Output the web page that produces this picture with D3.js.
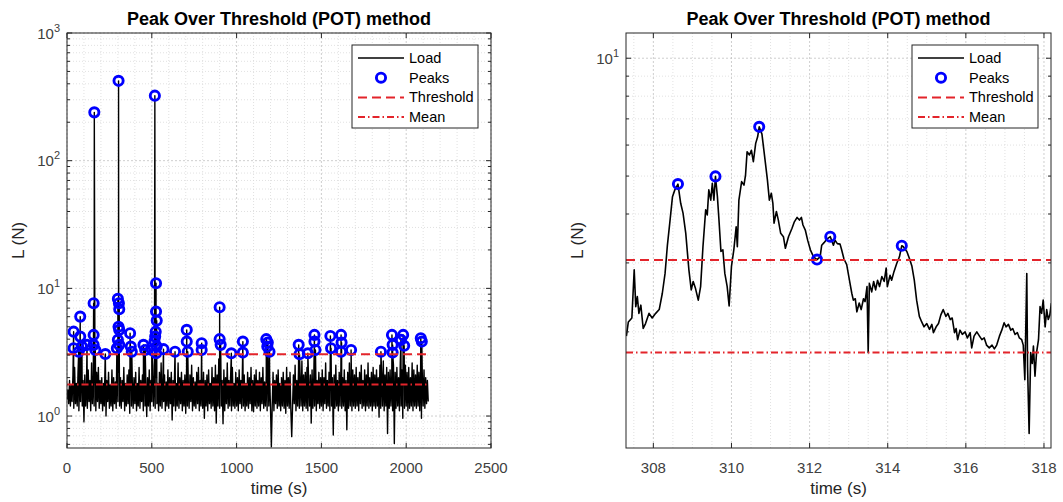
<!DOCTYPE html>
<meta charset="utf-8">
<style>
body { margin: 0; background: #fff; }
svg { font-family: "Liberation Sans", Arial, Helvetica, sans-serif; }
.grid-major line { stroke: #c2c2c2; stroke-width: 0.8; stroke-dasharray: 2,2; }
.grid-minor line { stroke: #d9d9d9; stroke-width: 0.8; stroke-dasharray: 1,2; }
.ticklabel { fill: #404040; font-size: 15px; }
.axlabel { fill: #262626; font-size: 17px; }
.title { fill: #000; font-size: 18px; font-weight: bold; }
.legend text { fill: #000; font-size: 14.5px; }
</style>
<svg id="chart" width="1063" height="502"></svg>
<script src="https://d3js.org/d3.v7.min.js"></script>
<script>

// ---- data ----
var loadStep = 5; // seconds between samples of the full record
var loadValues = [
  1.35,1.6,1.25,1.9,1.2,1.75,1.3,2.1,1.15,2.4,1.25,1.8,1.2,2.2,1.1,2.0,1.3,2.5,1.2,1.9,
  0.9,2.1,1.2,1.8,1.15,2.3,1.3,1.9,1.1,2.6,1.25,2.0,1.2,1.85,1.1,2.2,1.3,2.4,1.15,1.9,
  1.25,2.0,1.1,1.8,1.2,2.9,1.0,1.9,1.3,2.2,1.15,1.75,1.2,2.3,1.1,2.0,1.25,1.85,1.15,2.5,
  1.3,2.2,1.2,2.0,1.15,1.9,1.3,2.4,1.1,1.8,1.2,2.1,1.25,2.3,1.05,2.6,1.2,1.9,1.15,2.0,
  1.25,2.2,1.1,1.8,1.2,2.4,1.15,1.9,1.3,2.1,1.1,2.7,1.2,1.85,0.99,2.0,1.2,2.3,1.1,1.9,
  1.3,2.5,1.2,2.1,1.15,2.0,1.25,1.8,1.1,2.2,1.2,2.6,1.15,1.9,1.3,2.1,1.1,1.85,1.2,2.3,
  1.15,2.0,1.25,2.2,0.93,1.9,1.2,2.4,1.1,1.8,1.2,2.6,1.15,2.0,1.25,2.2,1.1,1.9,1.2,2.1,
  1.05,2.3,1.2,1.9,1.15,2.1,1.3,2.5,1.1,2.0,1.2,1.85,1.15,2.2,1.25,2.4,1.1,1.9,1.2,2.0,
  1.15,2.2,0.96,1.9,1.2,2.1,1.1,2.3,1.25,1.8,1.15,2.4,1.2,2.0,1.1,2.5,0.88,2.1,1.2,2.8,
  1.15,2.2,1.2,1.9,0.87,2.3,1.1,2.0,1.25,2.6,1.15,1.9,1.2,2.1,1.1,2.4,1.2,1.8,1.15,2.2,
  1.2,2.0,1.1,2.3,1.25,1.9,1.15,2.7,1.2,2.1,1.1,1.8,1.2,2.2,1.15,2.0,1.25,2.4,1.1,1.9,
  1.08,2.1,1.2,2.3,1.15,1.9,1.2,2.2,1.1,2.0,1.25,2.4,1.15,1.85,1.2,2.1,1.1,2.6,1.2,2.0,
  1.15,0.575,1.2,2.2,1.1,1.9,1.25,2.1,1.15,2.3,1.2,1.8,1.1,2.0,1.2,2.2,1.15,1.9,1.05,2.4,
  1.2,2.0,1.15,2.2,1.1,0.69,1.2,2.1,1.25,2.5,1.1,1.9,1.2,2.3,1.15,2.0,1.2,2.7,1.1,2.1,
  1.2,2.2,1.15,2.4,1.1,1.9,1.2,2.1,0.88,2.3,1.15,2.0,1.2,2.5,1.1,1.9,1.25,2.2,1.15,2.0,
  1.2,2.3,1.1,2.0,1.25,2.6,1.15,1.9,1.2,2.2,1.1,2.4,1.2,2.0,0.71,2.1,1.15,2.5,1.2,1.9,
  1.1,2.2,1.2,2.4,1.15,2.0,1.2,2.3,1.1,1.9,0.78,2.2,1.15,2.6,1.2,2.0,1.1,2.3,1.2,2.1,
  1.15,2.4,1.2,2.0,1.1,2.2,1.25,2.5,1.15,1.9,1.2,2.3,1.1,2.1,1.2,2.6,1.15,2.0,1.2,2.2,
  1.1,2.4,1.2,2.1,1.15,2.3,1.2,2.0,0.98,2.5,1.15,2.2,1.2,2.7,1.1,2.1,1.2,2.4,0.73,2.2,
  1.15,2.3,1.2,2.1,1.1,2.5,0.61,2.2,1.15,2.4,1.2,2.0,1.1,2.6,1.2,2.3,0.96,2.1,1.15,2.5,
  1.2,2.2,1.1,2.4,1.15,2.0,1.2,2.6,1.1,2.3,1.2,2.1,1.15,2.5,1.2,2.2,1.1,2.4,0.96,2.1,
  1.2,2.3,1.15,2.0,1.25,1.9,1.3
];

var peakTime = [39,39,69,78,78,88,118,157,157,157,161,167,226,294,300,300,304,304,306,308,308,308,
  372,376,382,451,461,500,516,518,520,523,525,525,525,529,529,569,637,706,706,712,794,794,
  900,900,906,969,1037,1037,1175,1181,1184,1194,1366,1371,1420,1459,1459,1465,1553,1557,
  1616,1616,1619,1675,1851,1916,1920,1920,1969,1982,1988,2086,2092];
var peakLoad = [4.58,3.40,3.19,6.01,4.19,3.50,3.61,7.65,4.32,3.61,239,3.29,3.06,3.40,8.27,3.95,5.01,422,7.65,6.87,4.73,3.61,
  4.45,3.50,3.19,3.61,3.29,3.29,3.83,323,4.19,4.58,10.98,6.58,3.10,5.59,3.50,3.34,3.19,4.73,3.83,3.19,3.72,3.29,
  7.12,4.00,3.61,3.10,3.83,3.14,4.00,3.50,3.76,3.19,3.61,3.05,3.10,4.32,3.83,3.29,4.24,3.40,
  4.32,3.19,3.76,3.29,3.19,4.32,3.61,3.14,3.95,4.32,3.55,4.07,3.83];

var threshold = 3.05;
var meanLoad = 1.77;

var zoomTime = [307.31,307.36,307.45,307.51,307.55,307.59,307.63,307.68,307.74,307.80,307.89,307.97,
  308.06,308.15,308.23,308.30,308.36,308.42,308.49,308.55,308.63,308.70,308.76,308.83,308.91,308.97,
  309.02,309.08,309.15,309.21,309.27,309.34,309.38,309.42,309.47,309.51,309.55,309.59,309.64,309.68,
  309.73,309.78,309.83,309.89,309.94,310.00,310.06,310.12,310.15,310.19,310.26,310.32,310.36,310.40,
  310.46,310.51,310.56,310.62,310.67,310.71,310.78,310.86,310.92,310.97,311.02,311.06,311.09,311.15,
  311.20,311.26,311.33,311.38,311.46,311.55,311.61,311.68,311.74,311.79,311.83,311.89,311.95,312.02,
  312.10,312.19,312.27,312.31,312.37,312.44,312.53,312.61,312.65,312.71,312.78,312.82,312.88,312.95,
  313.02,313.08,313.12,313.17,313.21,313.27,313.32,313.38,313.42,313.47,313.50,313.53,313.59,313.64,
  313.69,313.74,313.79,313.85,313.91,313.96,313.99,314.06,314.10,314.16,314.23,314.30,314.36,314.40,
  314.49,314.56,314.62,314.68,314.74,314.81,314.87,314.93,315.00,315.07,315.13,315.17,315.24,315.30,
  315.36,315.42,315.49,315.54,315.60,315.65,315.71,315.75,315.79,315.85,315.91,315.98,316.04,316.11,
  316.15,316.21,316.28,316.35,316.41,316.47,316.53,316.60,316.67,316.73,316.79,316.86,316.92,316.98,
  317.03,317.09,317.15,317.20,317.26,317.32,317.37,317.43,317.47,317.51,317.56,317.58,317.62,317.66,
  317.70,317.73,317.77,317.81,317.86,317.90,317.94,317.98,318.03,318.07,318.11,318.15,318.19];
var zoomLoad = [1.95,2.12,2.17,2.88,2.32,2.46,2.23,2.34,2.04,2.10,2.23,2.17,
  2.23,2.28,2.51,2.82,3.33,3.79,4.43,4.61,4.77,4.26,4.02,3.57,2.88,2.56,
  2.69,2.58,2.41,2.61,3.30,4.10,3.98,4.61,4.34,4.79,4.34,4.99,4.43,3.86,
  3.21,3.24,2.82,2.61,2.33,2.94,3.24,3.71,3.30,4.34,4.84,4.74,5.03,5.77,
  5.66,5.82,5.44,6.06,6.30,6.68,6.40,5.49,4.89,4.34,4.52,4.26,3.79,4.06,
  3.86,3.57,3.50,3.27,3.50,3.68,3.82,3.92,3.86,3.92,3.75,3.64,3.43,3.24,
  3.11,3.06,3.11,3.33,3.38,3.45,3.50,3.33,3.43,3.36,3.35,3.24,3.07,2.97,
  2.71,2.51,2.41,2.43,2.25,2.37,2.28,2.43,2.39,2.61,1.77,2.66,2.53,2.69,
  2.56,2.71,2.61,2.77,2.69,2.91,2.61,2.79,2.71,2.85,2.99,3.11,3.32,3.30,
  3.21,3.07,2.94,2.71,2.41,2.19,2.12,2.06,2.10,2.03,2.09,1.99,2.06,2.10,
  2.21,2.28,2.19,2.23,2.15,2.17,1.99,2.04,1.91,2.02,1.97,2.00,1.93,1.99,
  1.82,1.95,2.00,1.95,1.91,1.93,1.85,1.82,1.85,1.81,1.85,1.95,2.02,2.11,
  2.06,2.09,2.02,2.04,1.97,1.99,1.93,1.91,1.85,1.51,2.82,1.63,1.10,1.77,
  1.66,1.84,1.54,1.77,1.91,2.32,2.23,2.41,2.06,2.28,2.15,2.21,2.37];
var zoomPeakTime = [308.63,309.59,310.71,312.19,312.53,314.36];
var zoomPeakLoad = [4.77,4.99,6.68,3.06,3.50,3.32];

var legendLabels = ["Load","Peaks","Threshold","Mean"];
var titleText = "Peak Over Threshold (POT) method";

// ---- drawing ----
var svg = d3.select("#chart");
var red = "#e3242b", blue = "#0000ff";

var fullRecord = loadValues.map(function(v, i) { return {t: i * loadStep, v: v}; })
  .concat(peakTime.map(function(t, i) { return {t: t, v: peakLoad[i]}; }))
  .sort(function(a, b) { return a.t - b.t; });

var zoomRecord = zoomTime.map(function(t, i) { return {t: t, v: zoomLoad[i]}; });

var panels = [
  {id: "L", x0: 67, x1: 491, y0: 33, y1: 448, xDomain: [0, 2500], yDomain: [0.562, 1000],
   xMajor: 500, xMinor: 100, line: fullRecord, lineWidth: 1.4,
   peaks: peakTime.map(function(t, i) { return {t: t, v: peakLoad[i]}; }),
   refSpan: [0, 2130], ylabX: 23.5},
  {id: "R", x0: 626, x1: 1051, y0: 33, y1: 448, xDomain: [307.3, 318.18], yDomain: [1.01, 11.6],
   xMajor: 2, xMinor: 0.5, line: zoomRecord, lineWidth: 1.6,
   peaks: zoomPeakTime.map(function(t, i) { return {t: t, v: zoomPeakLoad[i]}; }),
   refSpan: [307.3, 318.18], ylabX: 582.5}
];

panels.forEach(drawPanel);

function stepTicks(domain, step) {
  var out = [];
  var start = Math.ceil(domain[0] / step - 1e-9);
  for (var k = start; k * step <= domain[1] + 1e-9; k++) out.push(+(k * step).toFixed(6));
  return out;
}

function drawPanel(p) {
  var x = d3.scaleLinear().domain(p.xDomain).range([p.x0, p.x1]);
  var y = d3.scaleLog().domain(p.yDomain).range([p.y1, p.y0]);
  var g = svg.append("g");

  g.append("rect").attr("x", p.x0).attr("y", p.y0)
    .attr("width", p.x1 - p.x0).attr("height", p.y1 - p.y0).attr("fill", "#fff");

  var xMaj = stepTicks(p.xDomain, p.xMajor);
  var xMin = stepTicks(p.xDomain, p.xMinor).filter(function(t) {
    return xMaj.indexOf(t) < 0;
  });
  var yAll = y.ticks();
  var isDecade = function(v) { return Math.abs(Math.log10(v) - Math.round(Math.log10(v))) < 1e-6; };
  var yMaj = yAll.filter(isDecade);
  var yMin = yAll.filter(function(v) { return !isDecade(v); });

  var gmin = g.append("g").attr("class", "grid-minor");
  gmin.selectAll(".vx").data(xMin).enter().append("line")
    .attr("x1", function(d) { return x(d); }).attr("x2", function(d) { return x(d); })
    .attr("y1", p.y0).attr("y2", p.y1);
  gmin.selectAll(".hy").data(yMin).enter().append("line")
    .attr("y1", function(d) { return y(d); }).attr("y2", function(d) { return y(d); })
    .attr("x1", p.x0).attr("x2", p.x1);

  var gmaj = g.append("g").attr("class", "grid-major");
  gmaj.selectAll(".vx").data(xMaj).enter().append("line")
    .attr("x1", function(d) { return x(d); }).attr("x2", function(d) { return x(d); })
    .attr("y1", p.y0).attr("y2", p.y1);
  gmaj.selectAll(".hy").data(yMaj).enter().append("line")
    .attr("y1", function(d) { return y(d); }).attr("y2", function(d) { return y(d); })
    .attr("x1", p.x0).attr("x2", p.x1);

  // clip
  svg.append("clipPath").attr("id", "clip" + p.id).append("rect")
    .attr("x", p.x0).attr("y", p.y0).attr("width", p.x1 - p.x0).attr("height", p.y1 - p.y0);
  var plot = g.append("g").attr("clip-path", "url(#clip" + p.id + ")");

  var line = d3.line().x(function(d) { return x(d.t); }).y(function(d) { return y(d.v); });
  plot.append("path").datum(p.line).attr("d", line)
    .attr("fill", "none").attr("stroke", "#000").attr("stroke-width", p.lineWidth)
    .attr("stroke-linejoin", "round");

  plot.selectAll(".pk").data(p.peaks).enter().append("circle")
    .attr("cx", function(d) { return x(d.t); }).attr("cy", function(d) { return y(d.v); })
    .attr("r", 4.6).attr("fill", "none").attr("stroke", blue).attr("stroke-width", 2.9);

  plot.append("line").attr("x1", x(p.refSpan[0])).attr("x2", x(p.refSpan[1]))
    .attr("y1", y(threshold)).attr("y2", y(threshold))
    .attr("stroke", red).attr("stroke-width", 2).attr("stroke-dasharray", "9,5");
  plot.append("line").attr("x1", x(p.refSpan[0])).attr("x2", x(p.refSpan[1]))
    .attr("y1", y(meanLoad)).attr("y2", y(meanLoad))
    .attr("stroke", red).attr("stroke-width", 2).attr("stroke-dasharray", "7,3,1.5,3");

  // box and inward ticks
  var ax = g.append("g").attr("stroke", "#262626").attr("stroke-width", 1);
  ax.append("rect").attr("x", p.x0).attr("y", p.y0)
    .attr("width", p.x1 - p.x0).attr("height", p.y1 - p.y0).attr("fill", "none");
  xMaj.forEach(function(t) {
    ax.append("line").attr("x1", x(t)).attr("x2", x(t)).attr("y1", p.y1).attr("y2", p.y1 - 5);
    ax.append("line").attr("x1", x(t)).attr("x2", x(t)).attr("y1", p.y0).attr("y2", p.y0 + 5);
  });
  yAll.forEach(function(v) {
    var len = isDecade(v) ? 5 : 3;
    ax.append("line").attr("y1", y(v)).attr("y2", y(v)).attr("x1", p.x0).attr("x2", p.x0 + len);
    ax.append("line").attr("y1", y(v)).attr("y2", y(v)).attr("x1", p.x1).attr("x2", p.x1 - len);
  });

  // tick labels
  g.selectAll(".xl").data(xMaj).enter().append("text")
    .attr("class", "ticklabel").attr("text-anchor", "middle")
    .attr("x", function(d) { return x(d); }).attr("y", p.y1 + 24.5)
    .text(function(d) { return d3.format("d")(d); });
  var yl = g.selectAll(".yl").data(yMaj).enter().append("text")
    .attr("class", "ticklabel").attr("text-anchor", "end")
    .attr("x", p.x0 - 7).attr("y", function(d) { return y(d) + 5.5; });
  yl.append("tspan").text("10");
  yl.append("tspan").attr("dy", -7).attr("font-size", "11px")
    .text(function(d) { return Math.round(Math.log10(d)); });

  // labels and title
  g.append("text").attr("class", "title").attr("text-anchor", "middle")
    .attr("x", (p.x0 + p.x1) / 2).attr("y", 24.5).text(titleText);
  g.append("text").attr("class", "axlabel").attr("text-anchor", "middle")
    .attr("x", (p.x0 + p.x1) / 2).attr("y", 494).text("time (s)");
  g.append("text").attr("class", "axlabel").attr("text-anchor", "middle")
    .attr("transform", "translate(" + p.ylabX + "," + ((p.y0 + p.y1) / 2) + ") rotate(-90)")
    .text("L (N)");

  // legend
  var lx = p.x1 - 139, ly = 45;
  var lg = g.append("g").attr("class", "legend");
  lg.append("rect").attr("x", lx).attr("y", ly).attr("width", 126).attr("height", 83)
    .attr("fill", "#fff").attr("stroke", "#262626").attr("stroke-width", 1);
  legendLabels.forEach(function(name, i) {
    var cy = ly + 13 + i * 19.7;
    var sx0 = lx + 6, sx1 = lx + 52;
    if (name === "Load") {
      lg.append("line").attr("x1", sx0).attr("x2", sx1).attr("y1", cy).attr("y2", cy)
        .attr("stroke", "#000").attr("stroke-width", 1.4);
    } else if (name === "Peaks") {
      lg.append("circle").attr("cx", (sx0 + sx1) / 2).attr("cy", cy).attr("r", 4.6)
        .attr("fill", "none").attr("stroke", blue).attr("stroke-width", 2.9);
    } else {
      lg.append("line").attr("x1", sx0).attr("x2", sx1).attr("y1", cy).attr("y2", cy)
        .attr("stroke", red).attr("stroke-width", 2)
        .attr("stroke-dasharray", name === "Threshold" ? "9,5" : "7,3,1.5,3");
    }
    lg.append("text").attr("x", lx + 57).attr("y", cy + 5).text(name);
  });
}

</script>
